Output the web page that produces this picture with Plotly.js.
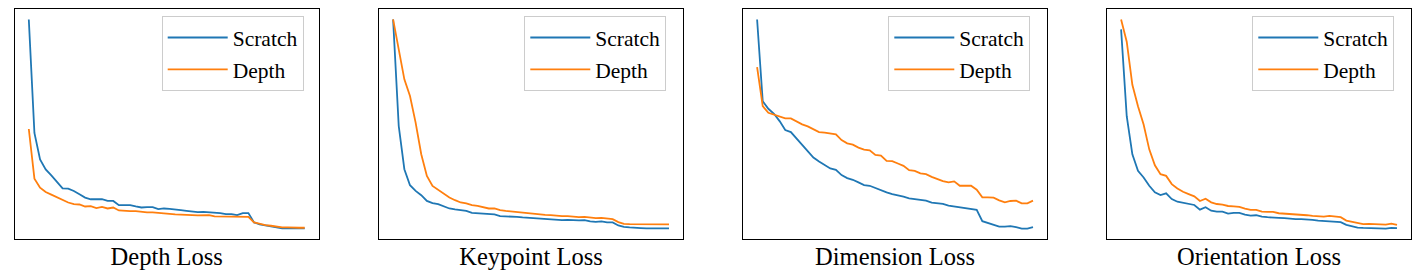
<!DOCTYPE html>
<html>
<head>
<meta charset="utf-8">
<script src="https://cdn.plot.ly/plotly-3.0.1.min.js"></script>
<style>html,body{margin:0;padding:0;background:#fff;}</style>
</head>
<body>
<div id="chart" style="width:1419px;height:280px;"></div>
<script>
const panelTitles = ["Depth Loss", "Keypoint Loss", "Dimension Loss", "Orientation Loss"];
const seriesNames = ["Scratch", "Depth"];

const depthScratch = [2.21, 1.067, 0.80, 0.70, 0.64, 0.573, 0.51, 0.507, 0.483, 0.45, 0.417, 0.40, 0.40, 0.40, 0.383, 0.383, 0.34, 0.34, 0.34, 0.327, 0.317, 0.32, 0.32, 0.30, 0.307, 0.303, 0.30, 0.29, 0.283, 0.277, 0.27, 0.273, 0.27, 0.267, 0.26, 0.25, 0.25, 0.24, 0.26, 0.26, 0.167, 0.147, 0.137, 0.13, 0.12, 0.108, 0.106, 0.106, 0.105, 0.106];
const depthDepth = [1.107, 0.607, 0.517, 0.473, 0.447, 0.42, 0.393, 0.367, 0.35, 0.347, 0.327, 0.33, 0.31, 0.323, 0.307, 0.317, 0.287, 0.28, 0.28, 0.28, 0.273, 0.267, 0.267, 0.26, 0.26, 0.253, 0.247, 0.247, 0.243, 0.24, 0.237, 0.24, 0.24, 0.227, 0.227, 0.227, 0.223, 0.23, 0.223, 0.223, 0.167, 0.15, 0.14, 0.133, 0.123, 0.117, 0.117, 0.113, 0.113, 0.113];

const keypointScratch = [2.20, 1.133, 0.70, 0.54, 0.483, 0.44, 0.383, 0.36, 0.35, 0.327, 0.307, 0.297, 0.293, 0.283, 0.263, 0.26, 0.253, 0.247, 0.247, 0.23, 0.23, 0.23, 0.223, 0.217, 0.213, 0.21, 0.207, 0.203, 0.20, 0.197, 0.19, 0.193, 0.187, 0.187, 0.19, 0.177, 0.173, 0.177, 0.167, 0.167, 0.137, 0.123, 0.117, 0.117, 0.11, 0.107, 0.107, 0.106, 0.107, 0.107];
const keypointDepth = [2.20, 1.90, 1.60, 1.433, 1.167, 0.85, 0.633, 0.533, 0.493, 0.457, 0.417, 0.39, 0.367, 0.357, 0.34, 0.333, 0.317, 0.307, 0.307, 0.29, 0.283, 0.277, 0.27, 0.263, 0.257, 0.25, 0.247, 0.243, 0.24, 0.233, 0.23, 0.23, 0.223, 0.22, 0.223, 0.213, 0.21, 0.213, 0.203, 0.20, 0.17, 0.153, 0.15, 0.15, 0.147, 0.143, 0.143, 0.143, 0.147, 0.147];

const dimensionScratch = [2.205, 1.383, 1.307, 1.257, 1.183, 1.093, 1.073, 1.007, 0.95, 0.883, 0.817, 0.777, 0.743, 0.707, 0.693, 0.64, 0.61, 0.593, 0.567, 0.54, 0.533, 0.51, 0.49, 0.467, 0.45, 0.44, 0.423, 0.407, 0.40, 0.393, 0.383, 0.363, 0.357, 0.35, 0.333, 0.323, 0.317, 0.31, 0.30, 0.29, 0.177, 0.16, 0.14, 0.123, 0.123, 0.127, 0.117, 0.103, 0.103, 0.117];
const dimensionDepth = [1.725, 1.333, 1.267, 1.25, 1.227, 1.21, 1.21, 1.177, 1.15, 1.13, 1.10, 1.073, 1.067, 1.057, 1.05, 0.993, 0.96, 0.947, 0.917, 0.897, 0.89, 0.843, 0.837, 0.783, 0.78, 0.757, 0.733, 0.69, 0.683, 0.657, 0.65, 0.623, 0.60, 0.58, 0.567, 0.577, 0.533, 0.533, 0.533, 0.493, 0.417, 0.417, 0.413, 0.387, 0.367, 0.38, 0.383, 0.357, 0.357, 0.383];

const orientationScratch = [2.107, 1.233, 0.85, 0.683, 0.617, 0.533, 0.467, 0.44, 0.457, 0.40, 0.373, 0.36, 0.35, 0.34, 0.293, 0.317, 0.283, 0.273, 0.273, 0.253, 0.26, 0.26, 0.243, 0.233, 0.237, 0.223, 0.217, 0.217, 0.21, 0.207, 0.20, 0.197, 0.197, 0.197, 0.19, 0.183, 0.18, 0.18, 0.173, 0.167, 0.14, 0.127, 0.113, 0.11, 0.107, 0.107, 0.107, 0.103, 0.11, 0.107];
const orientationDepth = [2.207, 1.983, 1.55, 1.333, 1.15, 0.90, 0.74, 0.65, 0.633, 0.55, 0.507, 0.473, 0.45, 0.427, 0.38, 0.403, 0.367, 0.35, 0.343, 0.33, 0.327, 0.32, 0.303, 0.29, 0.29, 0.273, 0.27, 0.27, 0.257, 0.253, 0.25, 0.25, 0.243, 0.237, 0.23, 0.223, 0.223, 0.23, 0.22, 0.217, 0.183, 0.17, 0.157, 0.147, 0.15, 0.147, 0.147, 0.143, 0.153, 0.14];

const panelSeries = [
  [depthScratch, depthDepth],
  [keypointScratch, keypointDepth],
  [dimensionScratch, dimensionDepth],
  [orientationScratch, orientationDepth]
];

const colors = ["#1f77b4", "#ff7f0e"];
const W = 1419, H = 280;
const panelLeft = [15, 379.3, 743.3, 1107.3];
const panelWidth = 303.5;
const plotTop = 9, plotBottom = 239;
const legendLeft = [161.7, 524.3, 888.3, 1252.3];
const legendTop = 16;
const serif = "'Liberation Serif', 'Times New Roman', serif";

const data = [];
const layout = {
  width: W, height: H,
  margin: {l: 0, r: 0, t: 0, b: 0},
  paper_bgcolor: "#fff",
  plot_bgcolor: "#fff",
  showlegend: true
};

panelSeries.forEach((pair, k) => {
  const n = k + 1;
  const xs = pair[0].map((_, i) => i);
  const suffix = n === 1 ? "" : String(n);
  const legendId = "legend" + suffix;
  pair.forEach((ys, s) => {
    data.push({
      type: "scatter", mode: "lines",
      x: xs, y: ys,
      name: seriesNames[s],
      line: {color: colors[s], width: 1.8},
      xaxis: "x" + suffix, yaxis: "y" + suffix,
      legend: legendId,
      legendgroup: seriesNames[s] + n,
      hoverinfo: "skip"
    });
  });
  const allY = pair[0].concat(pair[1]);
  const ymin = Math.min(...allY), ymax = Math.max(...allY);
  const ypad = (ymax - ymin) * 0.05;
  const xmax = xs.length - 1;
  const xpad = xmax * 0.05;
  const axCommon = {
    showgrid: false, zeroline: false, showticklabels: false, ticks: "",
    showline: true, mirror: true, linecolor: "#000", linewidth: 1
  };
  layout["xaxis" + suffix] = Object.assign({}, axCommon, {
    domain: [panelLeft[k] / W, (panelLeft[k] + panelWidth) / W],
    range: [-xpad, xmax + xpad],
    anchor: "y" + suffix,
    title: {text: panelTitles[k], font: {family: serif, size: 24.5, color: "#000"}, standoff: 8}
  });
  layout["yaxis" + suffix] = Object.assign({}, axCommon, {
    domain: [1 - plotBottom / H, 1 - plotTop / H],
    range: [ymin - ypad, ymax + ypad],
    anchor: "x" + suffix
  });
  layout[legendId] = {
    x: legendLeft[k] / W, y: 1 - legendTop / H,
    xanchor: "left", yanchor: "top",
    bgcolor: "rgba(255,255,255,0.8)",
    bordercolor: "#cccccc", borderwidth: 1,
    font: {family: serif, size: 21.5, color: "#000"},
    itemwidth: 60,
    traceorder: "grouped",
    tracegroupgap: 1
  };
});

Plotly.newPlot("chart", data, layout, {displayModeBar: false, staticPlot: true});
</script>
</body>
</html>
